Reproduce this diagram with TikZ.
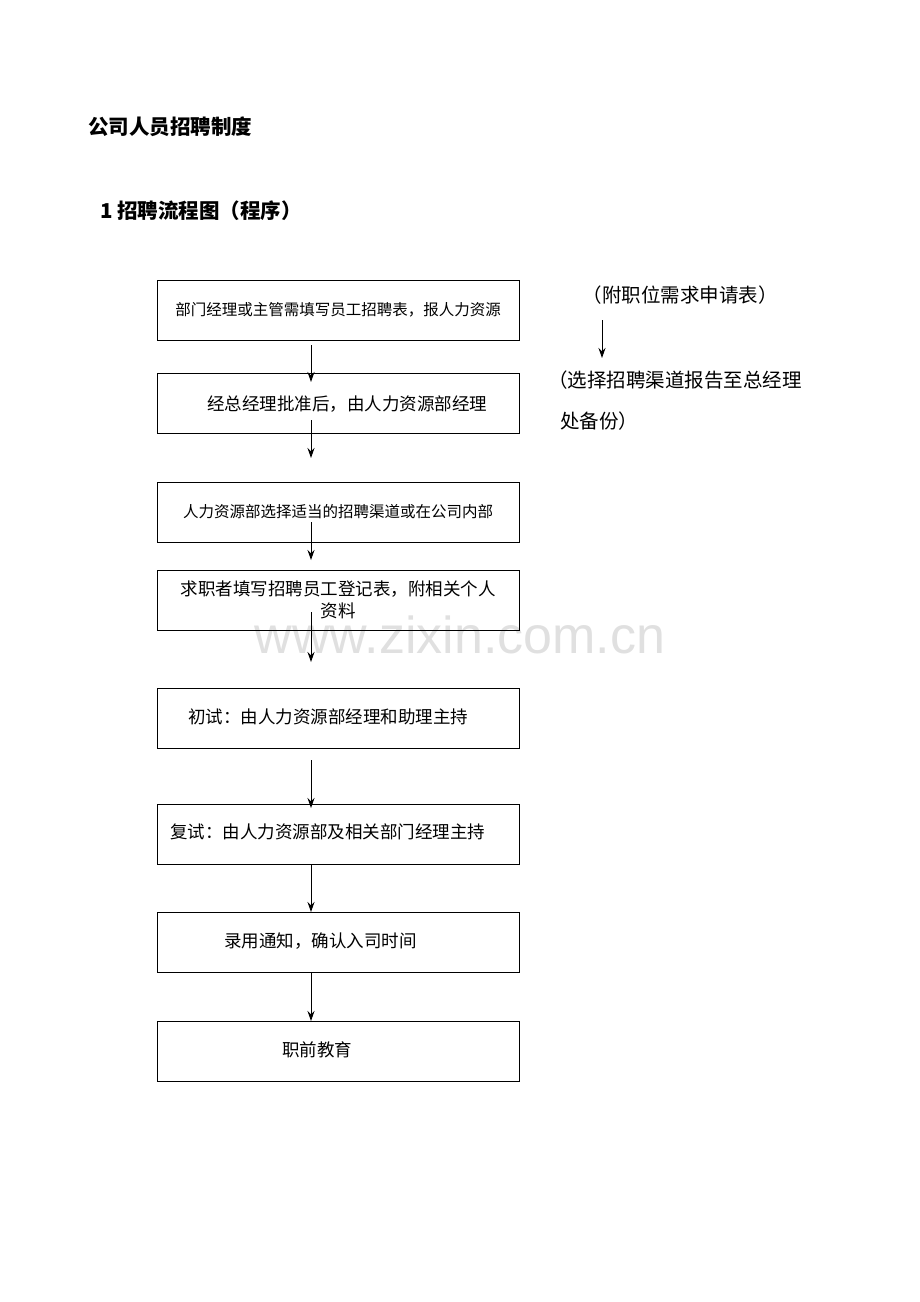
\documentclass[tikz,border=0pt]{standalone}
\usepackage{fontspec}
\usetikzlibrary{arrows.meta}
\setmainfont{Noto Sans CJK SC}
\newfontfamily\wmfont{Liberation Sans}
\begin{document}
\begin{tikzpicture}[x=1pt,y=-1pt,
  box/.style={draw,line width=0.9pt,minimum width=362pt,minimum height=60pt,inner sep=0pt},
  bt/.style={font=\fontsize{17.5}{20}\selectfont,anchor=west,inner sep=0pt},
  arr/.style={-{Stealth[length=10pt,width=7pt]},line width=1pt},
  big/.style={font=\fontsize{19.5}{22}\selectfont,inner sep=0pt}]
\useasboundingbox (0,0) rectangle (920,1302);
\node[font=\bfseries\fontsize{20.5}{24}\selectfont,anchor=west,inner sep=0pt] (t) at (88,127) {公司人员招聘制度};
\node[font=\bfseries\fontsize{20.5}{24}\selectfont,anchor=west,inner sep=0pt] (t2) at (100,211) {1 招聘流程图（程序）};
\node[font=\wmfont\fontsize{52}{58}\selectfont,text=black!12] (w) at (460,635) {www.zixin.com.cn};
\node[box] (b1) at (338,310) {};
\node[box] (b2) at (338,403) {};
\node[box] (b3) at (338,512) {};
\node[box] (b4) at (338,600) {};
\node[box] (b5) at (338,718) {};
\node[box] (b6) at (338,834) {};
\node[box] (b7) at (338,942) {};
\node[box] (b8) at (338,1051) {};
\node[font=\fontsize{15.5}{18}\selectfont] (l1) at (b1) {部门经理或主管需填写员工招聘表，报人力资源};
\node[bt] (l2) at (207,404) {经总经理批准后，由人力资源部经理};
\node[font=\fontsize{15.5}{18}\selectfont] (l3) at (b3) {人力资源部选择适当的招聘渠道或在公司内部};
\node[font=\fontsize{17.5}{22}\selectfont,align=center] (l4) at (338,600) {求职者填写招聘员工登记表，附相关个人\\资料};
\node[bt] (l5) at (188,717) {初试：由人力资源部经理和助理主持};
\node[bt] (l6) at (170,832) {复试：由人力资源部及相关部门经理主持};
\node[bt] (l7) at (224,941) {录用通知，确认入司时间};
\node[bt] (l8) at (282,1050) {职前教育};
\coordinate (a1s) at (311,345); \coordinate (a1e) at (311,382);
\coordinate (a2s) at (311,420); \coordinate (a2e) at (311,458);
\coordinate (a3s) at (311,522); \coordinate (a3e) at (311,560);
\coordinate (a4s) at (311,612); \coordinate (a4e) at (311,662);
\coordinate (a5s) at (311,760); \coordinate (a5e) at (311,808);
\coordinate (a6s) at (311,864); \coordinate (a6e) at (311,912);
\coordinate (a7s) at (311,972); \coordinate (a7e) at (311,1021);
\draw[arr] (a1s) -- (a1e);
\draw[arr] (a2s) -- (a2e);
\draw[arr] (a3s) -- (a3e);
\draw[arr] (a4s) -- (a4e);
\draw[arr] (a5s) -- (a5e);
\draw[arr] (a6s) -- (a6e);
\draw[arr] (a7s) -- (a7e);
\node[big] (r1) at (680,295) {（附职位需求申请表）};
\node[big,anchor=west] (r2) at (548,380) {（选择招聘渠道报告至总经理};
\node[big,anchor=west] (r3) at (560,421) {处备份）};
\coordinate (rs) at (602,320); \coordinate (re) at (602,358);
\draw[arr] (rs) -- (re);
\end{tikzpicture}
\end{document}
